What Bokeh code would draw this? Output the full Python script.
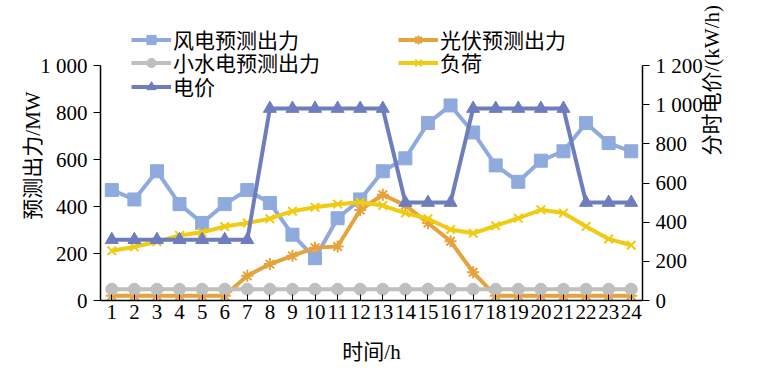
import math
from bokeh.plotting import figure
from bokeh.models import (Range1d, LinearAxis, FactorRange, Legend, LegendItem,
                          CustomJSTickFormatter, FixedTicker, ColumnDataSource)
from bokeh.embed import file_html
from bokeh.resources import INLINE

hours = ["1", "2", "3", "4", "5", "6", "7", "8", "9", "10", "11", "12",
         "13", "14", "15", "16", "17", "18", "19", "20", "21", "22", "23", "24"]
wind = [470, 430, 550, 410, 330, 410, 470, 415, 280, 180, 350, 430,
        550, 605, 755, 830, 715, 575, 505, 595, 635, 755, 670, 635]
solar = [20, 20, 20, 20, 20, 20, 105, 155, 190, 225, 230, 385,
         450, 405, 330, 252, 120, 20, 20, 20, 20, 20, 20, 20]
hydro = [48, 48, 48, 48, 48, 48, 48, 48, 48, 48, 48, 48,
         48, 48, 48, 48, 48, 48, 48, 48, 48, 48, 48, 48]
load = [212, 228, 250, 277, 290, 315, 330, 348, 380, 397, 410, 418,
        404, 372, 348, 302, 286, 318, 350, 386, 372, 315, 262, 235]
price = [310, 310, 310, 310, 310, 310, 310, 980, 980, 980, 980, 980,
         980, 500, 500, 500, 980, 980, 980, 980, 980, 500, 500, 500]

left_ticks = [0, 200, 400, 600, 800, 1000]
right_ticks = [0, 200, 400, 600, 800, 1000, 1200]

# axes occupy the lower 235 px of a 290 px frame; the top strip holds the legend
FRAME_H = 290
AXIS_H = 235
left_max = 1000 * FRAME_H / AXIS_H
right_max = 1200 * FRAME_H / AXIS_H

src = ColumnDataSource(dict(h=hours, wind=wind, solar=solar, hydro=hydro,
                            load=load, price=price))

SERIF = "'Liberation Serif', 'Noto Sans CJK SC'"
CJK = "'Liberation Serif', 'Noto Sans CJK SC'"

p = figure(width=752, height=368, x_range=FactorRange(*hours),
           y_range=Range1d(0, left_max), output_backend="svg", toolbar_location=None,
           min_border_left=100, min_border_right=110, min_border_top=10,
           min_border_bottom=68)
p.extra_y_ranges = {"price": Range1d(0, right_max)}
p.outline_line_color = None
p.xgrid.visible = False
p.ygrid.visible = False
p.background_fill_color = "white"

fmt = CustomJSTickFormatter(code="""
const s = Math.round(tick).toString();
return s.length > 3 ? s.slice(0, s.length - 3) + ' ' + s.slice(s.length - 3) : s;
""")

C_WIND = "#8FAADC"
C_SOLAR = "#E6A23C"
C_HYDRO = "#BFBFBF"
C_LOAD = "#EFCB12"
C_PRICE = "#6E7DBE"

wl = p.line("h", "wind", source=src, line_color=C_WIND, line_width=4)
ws = p.scatter("h", "wind", source=src, marker="square", size=13,
               fill_color=C_WIND, line_color=C_WIND)
sl = p.line("h", "solar", source=src, line_color=C_SOLAR, line_width=4)
ss = p.scatter("h", "solar", source=src, marker="asterisk", size=12,
               line_color=C_SOLAR, line_width=2)
hl = p.line("h", "hydro", source=src, line_color=C_HYDRO, line_width=4)
hs = p.scatter("h", "hydro", source=src, marker="circle", size=12,
               fill_color=C_HYDRO, line_color=C_HYDRO)
ll = p.line("h", "load", source=src, line_color=C_LOAD, line_width=4)
ls = p.scatter("h", "load", source=src, marker="x", size=12,
               line_color=C_LOAD, line_width=2)
pl = p.line("h", "price", source=src, line_color=C_PRICE, line_width=4,
            y_range_name="price")
ps = p.scatter("h", "price", source=src, marker="triangle", size=13,
               fill_color=C_PRICE, line_color=C_PRICE, y_range_name="price")

# left axis
ya = p.yaxis[0]
ya.ticker = FixedTicker(ticks=left_ticks)
ya.formatter = fmt
ya.bounds = (0, 1000)
ya.axis_label = "预测出力/MW"

# right axis (label reads bottom-to-top; trailing no-break spaces pull the
# visible text down toward the middle of the axis)
ra = LinearAxis(y_range_name="price", ticker=FixedTicker(ticks=right_ticks),
                formatter=fmt, bounds=(0, 1200),
                axis_label="分时电价/(kW/h)" + "\u00a0" * 14)
p.add_layout(ra, "right")
ra.axis_label_orientation = math.pi / 2

xa = p.xaxis[0]
xa.axis_label = "时间/h"
xa.major_tick_in = 6
xa.major_tick_out = 0

for ax in (ya, ra, xa):
    ax.axis_line_color = "black"
    ax.axis_line_width = 1.5
    ax.major_tick_line_color = "black"
    ax.minor_tick_line_color = None
    ax.major_label_text_font = SERIF
    ax.major_label_text_font_size = "21px"
    ax.major_label_text_color = "black"
    ax.axis_label_text_font = CJK
    ax.axis_label_text_font_size = "21px"
    ax.axis_label_text_font_style = "normal"
    ax.axis_label_text_color = "black"
for ax in (ya, ra):
    ax.major_tick_out = 7
    ax.major_tick_in = 0
ra.axis_label_text_align = "center"
ya.major_label_standoff = 6
ra.major_label_standoff = 6
xa.major_label_standoff = 4
xa.axis_label_standoff = 18
ya.axis_label_standoff = -8
ra.axis_label_standoff = 6


def add_entry(label, renderers, loc):
    lg = Legend(items=[LegendItem(label=label, renderers=renderers)], location=loc)
    lg.background_fill_alpha = 0
    lg.border_line_color = None
    lg.padding = 0
    lg.margin = 0
    lg.spacing = 0
    lg.glyph_width = 40
    lg.glyph_height = 23
    lg.label_height = 23
    lg.label_standoff = 2
    lg.label_text_font = CJK
    lg.label_text_font_size = "21px"
    lg.label_text_color = "black"
    p.add_layout(lg)


add_entry("风电预测出力", [wl, ws], (31, 246))
add_entry("小水电预测出力", [hl, hs], (31, 223))
add_entry("电价", [pl, ps], (31, 199))
add_entry("光伏预测出力", [sl, ss], (298, 246))
add_entry("负荷", [ll, ls], (298, 223))

open("out.html", "w").write(file_html(p, INLINE))
